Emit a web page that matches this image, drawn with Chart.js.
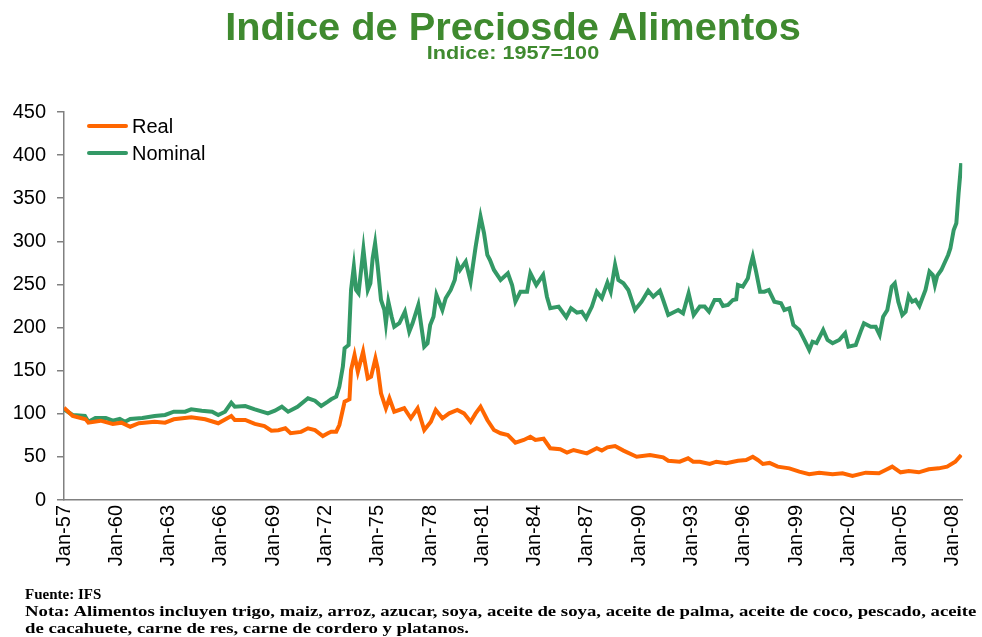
<!DOCTYPE html>
<html>
<head>
<meta charset="utf-8">
<script src="https://cdn.jsdelivr.net/npm/chart.js@4/dist/chart.umd.min.js"></script>
<style>
    html, body { margin: 0; padding: 0; background: #fff; }
    #wrap { position: relative; width: 982px; height: 637px; overflow: hidden; }
    #grafico { position: absolute; left: 0; top: 0; }
    .titulo { position: absolute; left: 513px; white-space: nowrap;
              font-family: "Liberation Sans", Arial, sans-serif; font-weight: bold; color: #3f8a2f; }
    #t1 { top: 7px; font-size: 39px; line-height: 40px; transform: translateX(-50%) scaleX(1.02); }
    #t2 { top: 43px; font-size: 18px; line-height: 20px; transform: translateX(-50%) scaleX(1.2); }
    .pie { position: absolute; left: 25px; white-space: nowrap; transform-origin: 0 0;
           font-family: "Liberation Serif", "Times New Roman", serif; font-weight: bold;
           font-size: 15px; line-height: 17px; color: #000; }
    #fuente { top: 586px; }
    #nota { top: 603px; transform: scaleX(1.25); }
</style>
</head>
<body>
<div id="wrap">
    <canvas id="grafico" width="982" height="637"></canvas>
    <div class="titulo" id="t1">Indice de Preciosde Alimentos</div>
    <div class="titulo" id="t2">Indice: 1957=100</div>
    <div class="pie" id="fuente">Fuente: IFS</div>
    <div class="pie" id="nota">Nota: Alimentos incluyen trigo, maiz, arroz, azucar, soya, aceite de soya, aceite de palma, aceite de coco, pescado, aceite<br>de cacahuete, carne de res, carne de cordero y platanos.</div>
</div>
<script>
// valores (año decimal, indice)
const anosReal = [1957.0, 1957.5, 1958.24, 1958.4, 1959.1, 1959.8, 1960.3, 1960.8, 1961.3, 1962.2, 1962.8, 1963.3, 1964.3, 1965.1, 1965.85,
    1966.6, 1966.8, 1967.4, 1967.95, 1968.5, 1968.9, 1969.3, 1969.7, 1970.0, 1970.6, 1971.0, 1971.4, 1971.85, 1972.14, 1972.33,
    1972.62, 1972.8, 1973.1, 1973.38, 1973.47, 1973.67, 1973.86, 1974.16, 1974.43, 1974.62, 1974.87, 1975.0, 1975.19, 1975.47, 1975.67,
    1975.95, 1976.52, 1976.9, 1977.29, 1977.67, 1978.05, 1978.33, 1978.71, 1979.1, 1979.57, 1979.95, 1980.33, 1980.62, 1980.9, 1981.29,
    1981.67, 1982.05, 1982.47, 1982.9, 1983.38, 1983.76, 1984.05, 1984.52, 1984.9, 1985.47, 1985.86, 1986.24, 1987.0, 1987.57, 1987.86,
    1988.18, 1988.62, 1989.1, 1989.86, 1990.62, 1991.38, 1991.67, 1992.33, 1992.81, 1993.1, 1993.48, 1994.05, 1994.43, 1995.0, 1995.67,
    1996.14, 1996.52, 1996.81, 1997.1, 1997.48, 1997.95, 1998.62, 1999.19, 1999.76, 2000.33, 2001.1, 2001.67, 2002.24, 2003.0, 2003.76,
    2004.14, 2004.52, 2005.0, 2005.47, 2006.05, 2006.62, 2007.19, 2007.67, 2008.14, 2008.48];
const valoresReal = [107, 97.5, 93.6, 89.7, 92, 88.2, 89.7, 85, 89, 90.8, 89.7, 93.6, 96, 93.6, 89,
    97.5, 92.8, 92.8, 88.2, 85.8, 80.4, 81, 83.2, 77.4, 79, 83.2, 81, 74.2, 77.4, 79.2,
    79.2, 87, 114, 116.8, 150.8, 168.2, 148.8, 172, 141, 143, 164.3, 152.8, 123.8, 106.4, 118,
    102.4, 106.4, 94.8, 106.4, 81.2, 90.8, 104.4, 94.8, 100.5, 104.4, 100.5, 90.8, 100.5, 108.2, 92.8,
    81.2, 77.4, 75.4, 66.5, 69.6, 73.4, 69.6, 71, 60, 58.8, 54.9, 58, 54.1, 60, 57.3,
    61.1, 62.6, 57.3, 50.2, 52.2, 49.5, 45.6, 44.4, 48.3, 44.4, 44.4, 41.8, 44.4, 42.6, 45.6,
    46.4, 50.2, 46.4, 41.8, 43, 38.7, 36.7, 32.9, 29.8, 31.7, 29.8, 31, 27.8, 31.7, 31,
    34.8, 38.7, 32.1, 33.7, 32.1, 35.6, 36.7, 38.7, 44.4, 52.2];

const anosNominal = [1957.0, 1957.5, 1958.2, 1958.4, 1958.8, 1959.4, 1959.8, 1960.2, 1960.5, 1960.8, 1961.5, 1962.2, 1962.8, 1963.3, 1963.95,
    1964.3, 1964.9, 1965.5, 1965.85, 1966.24, 1966.6, 1966.8, 1967.4, 1967.95, 1968.7, 1969.1, 1969.5, 1969.86, 1970.4, 1971.0,
    1971.4, 1971.76, 1972.14, 1972.33, 1972.62, 1972.8, 1973.0, 1973.1, 1973.33, 1973.47, 1973.63, 1973.76, 1973.9, 1974.18, 1974.43,
    1974.58, 1974.71, 1974.85, 1975.0, 1975.19, 1975.38, 1975.47, 1975.61, 1975.8, 1975.95, 1976.24, 1976.56, 1976.81, 1977.0, 1977.33,
    1977.67, 1977.86, 1978.01, 1978.2, 1978.37, 1978.71, 1978.9, 1979.19, 1979.42, 1979.57, 1979.72, 1980.05, 1980.33, 1980.62, 1980.9,
    1981.1, 1981.29, 1981.44, 1981.67, 1982.05, 1982.47, 1982.71, 1982.9, 1983.19, 1983.57, 1983.76, 1984.1, 1984.49, 1984.71, 1984.9,
    1985.38, 1985.82, 1986.09, 1986.43, 1986.71, 1986.96, 1987.29, 1987.57, 1987.86, 1988.18, 1988.37, 1988.62, 1988.81, 1989.1, 1989.38,
    1989.76, 1990.14, 1990.52, 1990.81, 1991.19, 1991.38, 1991.67, 1992.24, 1992.52, 1992.84, 1993.13, 1993.48, 1993.76, 1994.01, 1994.33,
    1994.62, 1994.81, 1995.1, 1995.38, 1995.57, 1995.67, 1995.95, 1996.24, 1996.37, 1996.52, 1996.71, 1996.94, 1997.19, 1997.44, 1997.76,
    1998.14, 1998.33, 1998.62, 1998.85, 1999.19, 1999.48, 1999.76, 1999.95, 2000.18, 2000.56, 2000.81, 2001.1, 2001.48, 2001.82, 2002.01,
    2002.43, 2002.71, 2002.9, 2003.29, 2003.57, 2003.8, 2004.0, 2004.24, 2004.49, 2004.67, 2004.87, 2005.1, 2005.29, 2005.47, 2005.67,
    2005.86, 2006.08, 2006.43, 2006.66, 2006.85, 2006.97, 2007.1, 2007.34, 2007.47, 2007.73, 2007.86, 2008.05, 2008.2, 2008.33, 2008.48];
const valoresNominal = [105, 98.6, 97.5, 90.8, 95, 95, 92, 94, 90.8, 94, 95, 97.5, 98.6, 102.4, 102.4,
    105.2, 103.6, 102.4, 98.6, 102.4, 112.9, 108.2, 109, 105.2, 100.5, 103.6, 108.2, 102.4, 108.2, 118,
    115.2, 109, 114, 116.8, 119.8, 131.5, 154.7, 176, 179.8, 243.6, 270.7, 243.6, 239.8, 290.8, 243.6,
    251.4, 280.4, 297.8, 270.7, 232, 220.4, 205, 230, 212.6, 201, 205, 218.4, 195.3, 205, 226.2,
    177.9, 181.8, 203, 212.6, 237.8, 220.4, 234, 243.6, 255.2, 274.6, 266.8, 276.5, 253.2, 293.9, 328.7,
    309.4, 284.2, 278.4, 266.8, 255.2, 263, 249.4, 230, 241.6, 241.6, 263, 249.4, 261, 235.8, 222.4,
    224.3, 212, 222.4, 217.3, 218.4, 210.8, 224.3, 241.6, 234, 252.1, 241.6, 272.6, 255.2, 251.4, 243.6,
    220.4, 230, 242.8, 235.8, 242.8, 232, 214.6, 220.4, 216.6, 239.8, 214.6, 224.3, 224.3, 218.4, 232,
    232, 225, 226.2, 232, 232.8, 249.4, 247.5, 257.2, 270.7, 282.3, 264.9, 241.6, 241.6, 243.6, 230,
    228.2, 220.4, 222.4, 203, 197.2, 185.6, 174, 183.6, 182, 197.2, 185.6, 181.8, 185.6, 193.4, 177.9,
    179.8, 195.3, 205, 201, 201, 191.4, 212.6, 220.4, 247.5, 251.4, 230, 214.6, 218.4, 236.7, 230,
    232, 225, 243.6, 264.9, 261, 249.4, 259.9, 266.8, 272.6, 284.2, 292, 313.2, 321, 355.8, 390.6];

// etiquetas del eje x cada 3 años
const anosEtiqueta = [1957, 1960, 1963, 1966, 1969, 1972, 1975, 1978, 1981, 1984, 1987, 1990, 1993, 1996, 1999, 2002, 2005, 2008];
const ticksY = [0, 50, 100, 150, 200, 250, 300, 350, 400, 450];

function etiquetaAno(ano) {
    return 'Jan-' + String(ano % 100).padStart(2, '0');
}

function armarPuntos(anos, valores) {
    return anos.map((a, i) => ({ x: a, y: valores[i] }));
}

// leyenda dibujada dentro del area del grafico
const leyendaInterna = {
    id: 'leyendaInterna',
    afterDraw(chart) {
        const ctx = chart.ctx;
        ctx.save();
        chart.data.datasets.forEach((ds, i) => {
            const y = 126 + i * 27;
            ctx.strokeStyle = ds.borderColor;
            ctx.lineWidth = 4;
            ctx.lineCap = 'round';
            ctx.beginPath();
            ctx.moveTo(89, y);
            ctx.lineTo(126, y);
            ctx.stroke();
            ctx.fillStyle = '#000';
            ctx.font = '20px "Liberation Sans", Arial, sans-serif';
            ctx.textBaseline = 'middle';
            ctx.fillText(ds.label, 132, y + 1);
        });
        ctx.restore();
    }
};

const fuenteEjes = { family: '"Liberation Sans", Arial, sans-serif', size: 20 };

new Chart(document.getElementById('grafico'), {
    type: 'line',
    data: {
        datasets: [
            {
                label: 'Real',
                data: armarPuntos(anosReal, valoresReal),
                borderColor: '#ff6600',
                borderWidth: 4,
                pointRadius: 0,
                tension: 0
            },
            {
                label: 'Nominal',
                data: armarPuntos(anosNominal, valoresNominal),
                borderColor: '#339966',
                borderWidth: 4,
                pointRadius: 0,
                tension: 0
            }
        ]
    },
    options: {
        responsive: false,
        animation: false,
        layout: { padding: { left: 0, top: 112, right: 15, bottom: 0 } },
        plugins: {
            legend: { display: false },
            title: { display: false },
            tooltip: { enabled: false }
        },
        scales: {
            x: {
                type: 'linear',
                min: 1957,
                max: 2008.54,
                afterBuildTicks: function(scale) {
                    scale.ticks = anosEtiqueta.map(a => ({ value: a }));
                },
                afterFit: function(scale) { scale.height = 137; },
                grid: { display: false, drawTicks: false },
                border: { display: true, color: '#808080', width: 1.5 },
                ticks: {
                    minRotation: 90,
                    maxRotation: 90,
                    padding: 5,
                    color: '#000',
                    font: fuenteEjes,
                    callback: function(value) { return etiquetaAno(value); }
                }
            },
            y: {
                min: 0,
                max: 450,
                afterBuildTicks: function(scale) {
                    scale.ticks = ticksY.map(v => ({ value: v }));
                },
                afterFit: function(scale) { scale.width = 64; },
                grid: { display: true, drawOnChartArea: false, drawTicks: true, tickLength: 7, color: '#808080', lineWidth: 1.5 },
                border: { display: true, color: '#808080', width: 1.5 },
                ticks: {
                    padding: 11,
                    color: '#000',
                    font: fuenteEjes
                }
            }
        }
    },
    plugins: [leyendaInterna]
});
</script>
</body>
</html>
